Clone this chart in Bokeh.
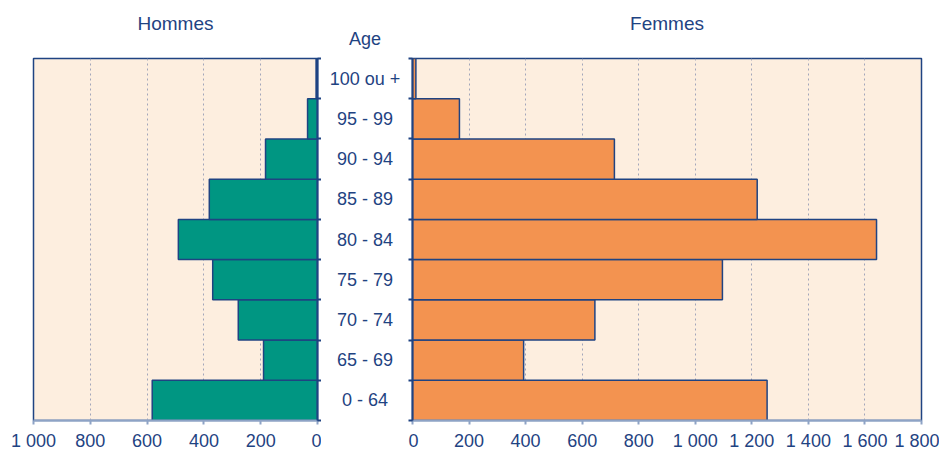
from bokeh.plotting import figure
from bokeh.layouts import row
from bokeh.models import Range1d, FixedTicker
from bokeh.embed import file_html
from bokeh.resources import INLINE
from bokeh.core.properties import value

# ---- data ----
age_groups = ["0 - 64", "65 - 69", "70 - 74", "75 - 79", "80 - 84",
              "85 - 89", "90 - 94", "95 - 99", "100 ou +"]
hommes = [582, 190, 279, 369, 490, 381, 183, 35, 5]
femmes = [1254, 393, 645, 1096, 1641, 1219, 714, 166, 12]

hommes_ticks = [0, 200, 400, 600, 800, 1000]
hommes_tick_labels = ["0", "200", "400", "600", "800", "1 000"]
femmes_ticks = [0, 200, 400, 600, 800, 1000, 1200, 1400, 1600, 1800]
femmes_tick_labels = ["0", "200", "400", "600", "800", "1 000",
                      "1 200", "1 400", "1 600", "1 800"]

title_left = "Hommes"
title_right = "Femmes"
title_mid = "Age"

# ---- style ----
FONT = "Liberation Sans"
NAVY = "#1F4382"
TEAL = "#009682"
ORANGE = "#F39350"
PANEL = "#FDEEDF"
GRID = "#A2A6BA"
AXIS_LIGHT = "#8EA3C6"
LBL = "18px"

n = len(age_groups)
ypos = [i + 0.5 for i in range(n)]
boundaries = list(range(n + 1))


def style_common(p, ticks, labels):
    p.background_fill_color = PANEL
    p.border_fill_color = "white"
    p.outline_line_color = NAVY
    p.outline_line_width = 1.5
    p.xaxis.ticker = FixedTicker(ticks=ticks)
    p.xaxis.major_label_overrides = dict(zip(ticks, labels))
    p.xaxis.axis_line_color = AXIS_LIGHT
    p.xaxis.axis_line_width = 2
    p.xaxis.major_tick_line_color = AXIS_LIGHT
    p.xaxis.major_tick_line_width = 2
    p.xaxis.major_tick_in = 0
    p.xaxis.major_tick_out = 4
    p.xaxis.minor_tick_line_color = None
    p.xaxis.major_label_text_font = FONT
    p.xaxis.major_label_text_font_size = LBL
    p.xaxis.major_label_text_color = NAVY
    p.xaxis.major_label_standoff = 6
    p.xgrid.ticker = FixedTicker(ticks=ticks)
    p.xgrid.grid_line_color = GRID
    p.xgrid.grid_line_dash = "2 3"
    p.xgrid.grid_line_width = 1
    p.ygrid.visible = False
    p.yaxis.ticker = FixedTicker(ticks=boundaries)
    p.yaxis.major_label_overrides = {b: "" for b in boundaries}
    p.yaxis.major_label_standoff = 0
    p.yaxis.axis_line_color = NAVY
    p.yaxis.axis_line_width = 2
    p.yaxis.major_tick_line_color = NAVY
    p.yaxis.major_tick_line_width = 2
    p.yaxis.major_tick_in = 0
    p.yaxis.major_tick_out = 4
    p.yaxis.minor_tick_line_color = None
    p.title.text_font = FONT
    p.title.text_font_size = "19px"
    p.title.text_font_style = "normal"
    p.title.text_color = NAVY
    p.title.align = "center"
    p.title.vertical_align = "top"
    p.title.standoff = 4


# Left panel (Hommes)
p1 = figure(frame_width=284, frame_height=362,
            x_range=Range1d(1000, 0), y_range=Range1d(0, n),
            output_backend="svg", toolbar_location=None,
            y_axis_location="right", title=title_left + "\n",
            min_border_left=33, min_border_right=0,
            min_border_top=58, min_border_bottom=0)
p1.hbar(y=ypos, height=1, left=0, right=hommes,
        fill_color=TEAL, line_color=NAVY, line_width=1.5)
style_common(p1, hommes_ticks, hommes_tick_labels)

# Middle panel (age labels)
p2 = figure(frame_width=87, frame_height=362,
            x_range=Range1d(0, 1), y_range=Range1d(0, n),
            output_backend="svg", toolbar_location=None,
            x_axis_location=None, y_axis_location=None, title=title_mid,
            min_border_left=0, min_border_right=0,
            min_border_top=58, min_border_bottom=0)
p2.outline_line_color = None
p2.background_fill_color = "white"
p2.xgrid.visible = False
p2.ygrid.visible = False
p2.text(x=[0.5] * n, y=ypos, text=age_groups,
        text_align="center", text_baseline="middle",
        text_font=value(FONT), text_font_size=LBL, text_color=NAVY)
p2.title.text_font = FONT
p2.title.text_font_size = LBL
p2.title.text_font_style = "normal"
p2.title.text_color = NAVY
p2.title.align = "center"
p2.title.vertical_align = "bottom"
p2.title.standoff = 20

# Right panel (Femmes)
p3 = figure(frame_width=509, frame_height=362,
            x_range=Range1d(0, 1800), y_range=Range1d(0, n),
            output_backend="svg", toolbar_location=None,
            y_axis_location="left", title=title_right + "\n",
            min_border_left=0, min_border_right=18,
            min_border_top=58, min_border_bottom=0)
p3.hbar(y=ypos, height=1, left=0, right=femmes,
        fill_color=ORANGE, line_color=NAVY, line_width=1.5)
style_common(p3, femmes_ticks, femmes_tick_labels)
p3.title.offset = -4

layout = row(p1, p2, p3)
open("out.html", "w").write(file_html(layout, INLINE))
